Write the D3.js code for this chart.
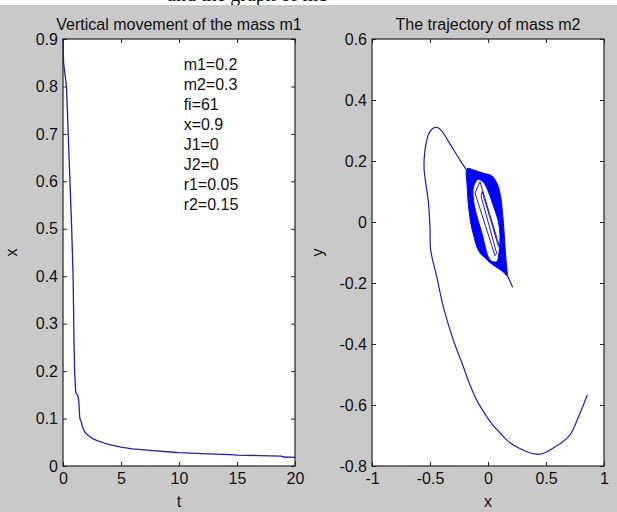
<!DOCTYPE html>
<html>
<head>
<meta charset="utf-8">
<script src="https://cdn.jsdelivr.net/npm/d3@7"></script>
<style>
  body { margin: 0; background: #fff; }
  svg text { font-family: "Liberation Sans", Arial, sans-serif; fill: #111; }
</style>
</head>
<body>
<svg id="fig" width="617" height="512"></svg>
<script>
// left panel: x(t) of mass m1
let t_vals = [0, 0.05, 0.3, 0.45, 0.6, 0.75, 0.87, 0.93, 0.95, 1.0, 1.1, 1.15, 1.25, 1.35, 1.4, 1.45, 1.55, 1.65, 1.8, 2.0, 2.3, 2.6, 3.0, 3.5, 4.0, 5.0, 6.0, 7.5, 9.0, 10.0, 12.0, 14.5, 15.0, 17.0, 18.8, 19.0, 20.0];
let x_vals = [0.9, 0.85, 0.8, 0.7, 0.6, 0.5, 0.4, 0.3, 0.26, 0.2, 0.155, 0.152, 0.15, 0.14, 0.12, 0.1, 0.095, 0.085, 0.075, 0.068, 0.062, 0.057, 0.053, 0.049, 0.045, 0.040, 0.036, 0.033, 0.030, 0.028, 0.026, 0.024, 0.023, 0.022, 0.021, 0.019, 0.018];
let params = ["m1=0.2", "m2=0.3", "fi=61", "x=0.9", "J1=0", "J2=0", "r1=0.05", "r2=0.15"];

// right panel: trajectory of m2, the big arc
let arc_x = [0.856, 0.793, 0.707, 0.64, 0.578, 0.50, 0.448, 0.40, 0.348, 0.27, 0.190, 0.103, 0.04, -0.011, -0.098, -0.16, -0.213, -0.299, -0.385, -0.442, -0.494, -0.50, -0.515, -0.545, -0.552, -0.545, -0.534, -0.515, -0.5, -0.47, -0.437, -0.41, -0.385, -0.313, -0.241, -0.184];
let arc_y = [-0.567, -0.627, -0.698, -0.722, -0.737, -0.755, -0.761, -0.760, -0.755, -0.742, -0.724, -0.691, -0.665, -0.638, -0.584, -0.53, -0.474, -0.387, -0.278, -0.179, -0.092, -0.02, 0.07, 0.15, 0.185, 0.23, 0.258, 0.285, 0.296, 0.308, 0.310, 0.303, 0.291, 0.247, 0.203, 0.170];
// dense loops, outer and inner edge of the band
let band_out_x = [-0.180, -0.120, -0.040, 0.030, 0.080, 0.110, 0.125, 0.140, 0.150, 0.162, 0.165, 0.120, 0.040, -0.020, -0.080, -0.120, -0.150, -0.170, -0.180];
let band_out_y = [0.175, 0.170, 0.160, 0.152, 0.125, 0.080, 0.030, -0.040, -0.100, -0.150, -0.175, -0.160, -0.140, -0.120, -0.095, -0.050, 0.000, 0.060, 0.120];
let band_in_x = [-0.084, -0.040, -0.011, 0.040, 0.090, 0.103, 0.095, 0.075, 0.030, 0.003, -0.050, -0.110, -0.127, -0.125];
let band_in_y = [0.140, 0.130, 0.112, 0.060, 0.000, -0.040, -0.100, -0.130, -0.128, -0.115, -0.040, 0.040, 0.080, 0.115];
// thin lines left inside the hole
let hole_x = [-0.069, -0.112, 0.060, 0.075, -0.060, -0.050, 0.090, 0.103, -0.069];
let hole_y = [0.132, 0.095, -0.110, -0.103, 0.085, 0.100, -0.080, -0.086, 0.132];
let tail_x = [0.150, 0.185, 0.213];
let tail_y = [-0.160, -0.190, -0.214];

let left_xticks = [0, 5, 10, 15, 20];
let left_yticks = [0, 0.1, 0.2, 0.3, 0.4, 0.5, 0.6, 0.7, 0.8, 0.9];
let right_xticks = [-1, -0.5, 0, 0.5, 1];
let right_yticks = [-0.8, -0.6, -0.4, -0.2, 0, 0.2, 0.4, 0.6];

let FS = 16;
let LINE_COLOR = '#1f1fb4';
let svg = d3.select('#fig');

// cut-off caption above the figure (only its lower edge shows)
svg.append('text').attr('x', 167).attr('y', 1)
    .style('font-family', '"Liberation Serif", serif').style('font-size', '20px')
    .text('and the graph of m1');
svg.append('rect').attr('x', 0).attr('y', 5).attr('width', 617).attr('height', 507).attr('fill', '#c9c9c9');

let fmt = d => String(+d.toFixed(2));

// draws box, inward ticks on all sides and labels
function make_axes(xs, ys, xticks, yticks, title, xlab, ylab, ylabX) {
    let [x0, x1] = xs.range();
    let [y0, y1] = ys.range();
    let g = svg.append('g');
    g.append('rect').attr('x', x0).attr('y', y1).attr('width', x1 - x0).attr('height', y0 - y1).attr('fill', '#fff');

    let bottom = g.append('g').attr('transform', `translate(0,${y0})`)
        .call(d3.axisBottom(xs).tickValues(xticks).tickFormat(fmt).tickSize(-4).tickPadding(7));
    let top = g.append('g').attr('transform', `translate(0,${y1})`)
        .call(d3.axisTop(xs).tickValues(xticks).tickFormat('').tickSize(-4));
    let left = g.append('g').attr('transform', `translate(${x0},0)`)
        .call(d3.axisLeft(ys).tickValues(yticks).tickFormat(fmt).tickSize(-4).tickPadding(5));
    let right = g.append('g').attr('transform', `translate(${x1},0)`)
        .call(d3.axisRight(ys).tickValues(yticks).tickFormat('').tickSize(-4));
    [bottom, top, left, right].forEach(a => {
        a.select('.domain').remove();
        a.selectAll('line').attr('stroke', '#222');
        a.selectAll('text').style('font-size', FS + 'px').attr('fill', '#111');
    });

    g.append('text').attr('x', (x0 + x1) / 2).attr('y', 30).attr('text-anchor', 'middle')
        .style('font-size', FS + 'px').text(title);
    g.append('text').attr('x', (x0 + x1) / 2).attr('y', 507).attr('text-anchor', 'middle')
        .style('font-size', FS + 'px').text(xlab);
    g.append('text').attr('transform', `translate(${ylabX},${(y0 + y1) / 2}) rotate(-90)`)
        .attr('text-anchor', 'middle').style('font-size', FS + 'px').text(ylab);
    return g;
}

function box(xs, ys) {
    let [x0, x1] = xs.range();
    let [y0, y1] = ys.range();
    svg.append('rect').attr('x', x0).attr('y', y1).attr('width', x1 - x0).attr('height', y0 - y1)
        .attr('fill', 'none').attr('stroke', '#222').attr('stroke-width', 1.2);
}

// ---- left panel
let xL = d3.scaleLinear().domain([0, 20]).range([63, 295]);
let yL = d3.scaleLinear().domain([0, 0.9]).range([466, 39]);
make_axes(xL, yL, left_xticks, left_yticks, 'Vertical movement of the mass m1', 't', 'x', 17);

let m1_data = t_vals.map((t, i) => [t, x_vals[i]]);
svg.append('path').datum(m1_data)
    .attr('d', d3.line().x(d => xL(d[0])).y(d => yL(d[1])))
    .attr('fill', 'none').attr('stroke', LINE_COLOR).attr('stroke-width', 1.3);

// parameter list, placed in data units
svg.append('g').selectAll('text').data(params).join('text')
    .attr('x', xL(10.4))
    .attr('y', (d, i) => yL(0.835) + i * 20)
    .style('font-size', FS + 'px')
    .text(d => d);
box(xL, yL);

// ---- right panel
let xR = d3.scaleLinear().domain([-1, 1]).range([372, 604]);
let yR = d3.scaleLinear().domain([-0.8, 0.6]).range([466, 39]);
make_axes(xR, yR, right_xticks, right_yticks, 'The trajectory of mass m2', 'x', 'y', 323);

let pts = (xa, ya) => xa.map((v, i) => [v, ya[i]]);
let lineR = d3.line().x(d => xR(d[0])).y(d => yR(d[1]));
let loopR = d3.line().x(d => xR(d[0])).y(d => yR(d[1])).curve(d3.curveCatmullRomClosed);

svg.append('path')
    .attr('d', loopR(pts(band_out_x, band_out_y)) + loopR(pts(band_in_x, band_in_y)))
    .attr('fill', '#0000ff').attr('fill-rule', 'evenodd')
    .attr('stroke', '#0000ff').attr('stroke-width', 1);

svg.append('path').datum(pts(hole_x, hole_y)).attr('d', lineR)
    .attr('fill', 'none').attr('stroke', LINE_COLOR).attr('stroke-width', 1);
svg.append('path').datum(pts(arc_x, arc_y)).attr('d', lineR.curve(d3.curveCatmullRom))
    .attr('fill', 'none').attr('stroke', LINE_COLOR).attr('stroke-width', 1.2);
svg.append('path').datum(pts(tail_x, tail_y)).attr('d', d3.line().x(d => xR(d[0])).y(d => yR(d[1])))
    .attr('fill', 'none').attr('stroke', LINE_COLOR).attr('stroke-width', 1.2);
box(xR, yR);
</script>
</body>
</html>
